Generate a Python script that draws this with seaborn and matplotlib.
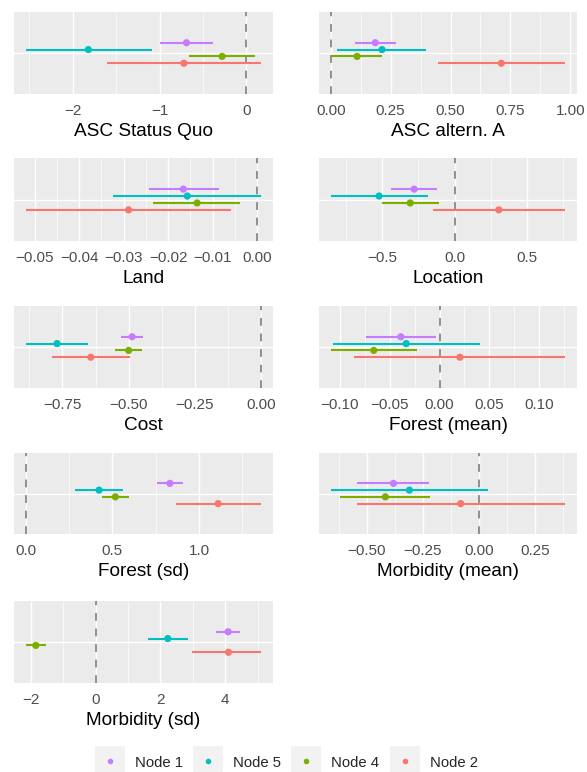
import numpy as np
import pandas as pd
import matplotlib
matplotlib.use("Agg")
import matplotlib.pyplot as plt
import seaborn as sns
from matplotlib.lines import Line2D
from matplotlib.legend_handler import HandlerTuple

# ---------------- data ----------------
nodes = ["Node 1", "Node 5", "Node 4", "Node 2"]
attributes = ["ASC Status Quo", "ASC altern. A", "Land", "Location", "Cost",
              "Forest (mean)", "Forest (sd)", "Morbidity (mean)", "Morbidity (sd)"]

node1_est = [-0.69, 0.186, -0.0166, -0.279, -0.487, -0.0388, 0.832, -0.381, 4.09]
node1_lo = [-1.00, 0.100, -0.0244, -0.438, -0.527, -0.0739, 0.757, -0.541, 3.72]
node1_hi = [-0.38, 0.274, -0.0086, -0.120, -0.447, -0.0040, 0.909, -0.221, 4.45]

node5_est = [-1.82, 0.214, -0.0157, -0.521, -0.770, -0.0334, 0.423, -0.310, 2.23]
node5_lo = [-2.54, 0.028, -0.0323, -0.855, -0.888, -0.1070, 0.286, -0.660, 1.63]
node5_hi = [-1.09, 0.399, 0.0009, -0.182, -0.653, 0.0405, 0.562, 0.039, 2.85]

node4_est = [-0.28, 0.110, -0.0135, -0.306, -0.500, -0.0659, 0.517, -0.417, -1.84]
node4_lo = [-0.665, 0.003, -0.0234, -0.502, -0.552, -0.1090, 0.440, -0.617, -2.15]
node4_hi = [0.10, 0.215, -0.0038, -0.106, -0.451, -0.0224, 0.595, -0.218, -1.54]

node2_est = [-0.72, 0.712, -0.0289, 0.306, -0.643, 0.0204, 1.110, -0.082, 4.10]
node2_lo = [-1.60, 0.447, -0.0520, -0.150, -0.788, -0.0853, 0.865, -0.545, 2.99]
node2_hi = [0.17, 0.979, -0.0059, 0.765, -0.495, 0.1260, 1.359, 0.383, 5.11]

tick_labels = [
    ["\u22122", "\u22121", "0"],
    ["0.00", "0.25", "0.50", "0.75", "1.00"],
    ["\u22120.05", "\u22120.04", "\u22120.03", "\u22120.02", "\u22120.01", "0.00"],
    ["\u22120.5", "0.0", "0.5"],
    ["\u22120.75", "\u22120.50", "\u22120.25", "0.00"],
    ["\u22120.10", "\u22120.05", "0.00", "0.05", "0.10"],
    ["0.0", "0.5", "1.0"],
    ["\u22120.50", "\u22120.25", "0.00", "0.25"],
    ["\u22122", "0", "2", "4"],
]

colors = {"Node 1": "#C77CFF", "Node 5": "#00BFC4", "Node 4": "#7CAE00", "Node 2": "#F8766D"}
dodge = {"Node 1": 0.15, "Node 5": 0.05, "Node 4": -0.05, "Node 2": -0.15}

rows = []
for n, est, lo, hi in [("Node 1", node1_est, node1_lo, node1_hi),
                       ("Node 5", node5_est, node5_lo, node5_hi),
                       ("Node 4", node4_est, node4_lo, node4_hi),
                       ("Node 2", node2_est, node2_lo, node2_hi)]:
    for a, e, l, h in zip(attributes, est, lo, hi):
        rows.append({"attribute": a, "node": n, "est": e, "lo": l, "hi": h,
                     "ypos": 1 + dodge[n]})
df = pd.DataFrame(rows)

# ---------------- style ----------------
sns.set_style("white")
plt.rcParams["font.family"] = ["Liberation Sans", "DejaVu Sans"]

W, H = 587, 772
fig = plt.figure(figsize=(W / 100, H / 100), dpi=100)

cols_px = [(14, 273), (319, 577)]
rows_px = [(12, 94), (158, 241), (306, 388), (453, 534), (601, 683)]

for i, attr in enumerate(attributes):
    x0, x1 = cols_px[i % 2]
    y0, y1 = rows_px[i // 2]
    ax = fig.add_axes([x0 / W, 1 - y1 / H, (x1 - x0) / W, (y1 - y0) / H])
    ax.set_facecolor("#EBEBEB")
    sub = df[df["attribute"] == attr]

    lo_all = min(sub["lo"].min(), 0.0)
    hi_all = max(sub["hi"].max(), 0.0)
    pad = 0.05 * (hi_all - lo_all)
    xmin, xmax = lo_all - pad, hi_all + pad

    ticks = [float(t.replace("\u2212", "-")) for t in tick_labels[i]]
    step = ticks[1] - ticks[0]
    minors = np.arange(ticks[0] - step / 2, ticks[-1] + step, step)
    minors = [m for m in minors if xmin <= m <= xmax]

    ax.axvline(0, color="#8F8F8F", lw=1.4, ls=(0, (4, 4)), zorder=2)
    for _, r in sub.iterrows():
        ax.hlines(r["ypos"], r["lo"], r["hi"], color=colors[r["node"]], lw=1.5, zorder=3)
    sns.scatterplot(data=sub, x="est", y="ypos", hue="node", hue_order=nodes,
                    palette=colors, s=27, edgecolor="none", linewidth=0,
                    legend=False, ax=ax, zorder=4)

    ax.set_xlim(xmin, xmax)
    ax.set_ylim(0.4, 1.6)
    ax.set_xticks(ticks)
    ax.set_xticklabels(tick_labels[i])
    ax.set_xticks(minors, minor=True)
    ax.set_yticks([1])
    ax.set_yticklabels([""])
    ax.grid(which="major", color="white", lw=0.95)
    ax.grid(which="minor", axis="x", color="white", lw=0.5)
    ax.set_axisbelow(True)
    for s in ax.spines.values():
        s.set_visible(False)
    ax.tick_params(which="major", length=2.5, width=0.8, color="#333333",
                   labelsize=11, labelcolor="#4D4D4D", pad=4.5)
    ax.tick_params(which="minor", length=0)
    ax.set_xlabel(attr, fontsize=13.7, color="black", labelpad=3.5)
    ax.set_ylabel("")

handles = []
for n in nodes:
    handles.append((Line2D([], [], marker="s", color="#F2F2F2", ls="", markersize=22.3,
                           markeredgewidth=0),
                    Line2D([], [], marker="o", color=colors[n], ls="", markersize=4,
                           markeredgewidth=0)))
fig.legend(handles, nodes, handler_map={tuple: HandlerTuple(ndivide=1, pad=0)},
           loc="center", bbox_to_anchor=(286 / W, 1 - 762.5 / H), ncol=4,
           frameon=False, fontsize=10.7, handlelength=2.08, handleheight=1.2,
           handletextpad=0.65, columnspacing=0.65, borderpad=0, borderaxespad=0)

fig.savefig("out.png", dpi=100)
